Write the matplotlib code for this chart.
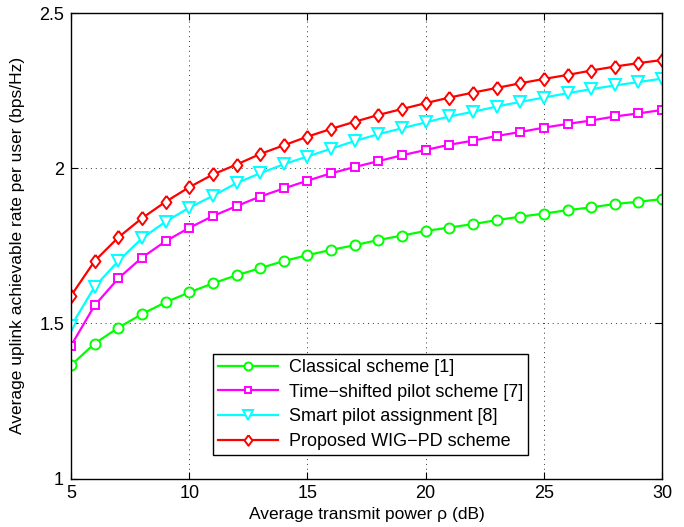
import numpy as np
import matplotlib.pyplot as plt

plt.rcParams['font.family'] = ['Liberation Sans', 'DejaVu Sans']

snr_db = np.arange(5, 31)

classical = [1.365, 1.435, 1.486, 1.530, 1.568, 1.600, 1.629, 1.655, 1.678, 1.701,
             1.720, 1.737, 1.752, 1.769, 1.783, 1.798, 1.809, 1.820, 1.833, 1.844,
             1.854, 1.865, 1.874, 1.885, 1.892, 1.901]
time_shifted = [1.428, 1.558, 1.645, 1.712, 1.765, 1.808, 1.846, 1.878, 1.909, 1.935,
                1.960, 1.984, 2.004, 2.023, 2.042, 2.059, 2.076, 2.089, 2.104, 2.117,
                2.131, 2.143, 2.154, 2.167, 2.177, 2.188]
smart_pilot = [1.491, 1.618, 1.701, 1.774, 1.828, 1.873, 1.911, 1.952, 1.984, 2.013,
               2.038, 2.063, 2.088, 2.110, 2.129, 2.148, 2.167, 2.182, 2.199, 2.214,
               2.228, 2.242, 2.255, 2.267, 2.278, 2.289]
proposed = [1.589, 1.701, 1.777, 1.839, 1.892, 1.939, 1.980, 2.012, 2.046, 2.074,
            2.102, 2.127, 2.150, 2.172, 2.191, 2.210, 2.228, 2.244, 2.259, 2.274,
            2.288, 2.301, 2.315, 2.328, 2.339, 2.349]

labels = ['Classical scheme [1]', 'Time\u2212shifted pilot scheme [7]',
          'Smart pilot assignment [8]', 'Proposed WIG\u2212PD scheme']

# matlab style diamond (a bit wider than mpl's 'd')
diamond = [(0, 1), (0.75, 0), (0, -1), (-0.75, 0), (0, 1)]

fig = plt.figure(figsize=(6.84, 5.27), dpi=100)
ax = fig.add_axes([0.1038, 0.092, 0.8642, 0.883])

styles = [('#00ff00', 'o', 7.2), ('#ff00ff', 's', 6), ('#00ffff', 'v', 8.5), ('#ff0000', diamond, 9.5)]
for y, lab, (c, m, ms) in zip([classical, time_shifted, smart_pilot, proposed], labels, styles):
    ax.plot(snr_db, y, color=c, marker=m, markersize=ms, markerfacecolor='white',
            markeredgewidth=1.4, linewidth=1.6, label=lab)

ax.set_xlim(5, 30)
ax.set_ylim(1, 2.5)
ax.set_xticks([5, 10, 15, 20, 25, 30])
ax.set_yticks([1, 1.5, 2, 2.5])
ax.set_yticklabels(['1', '1.5', '2', '2.5'])
ax.grid(True, color='black', linestyle=(0, (1, 4)), linewidth=0.7, alpha=0.8)
ax.tick_params(direction='in', top=True, right=True, labelsize=13, length=5, pad=5)
for s in ax.spines.values():
    s.set_linewidth(1)

ax.set_xlabel('Average transmit power \u03c1 (dB)', fontsize=12.5, labelpad=3)
ax.set_ylabel('Average uplink achievable rate per user (bps/Hz)', fontsize=12.5, labelpad=10)

leg = ax.legend(loc='lower left', bbox_to_anchor=(0.24, 0.05), borderaxespad=0,
                fontsize=13, fancybox=False, edgecolor='black', framealpha=1,
                handlelength=3.3, labelspacing=0.42, borderpad=0.3, handletextpad=0.6)
leg.get_frame().set_linewidth(1)
for h in leg.legend_handles:
    h.set_markersize(h.get_markersize() * 0.8)

fig.savefig('out.png', dpi=100)
